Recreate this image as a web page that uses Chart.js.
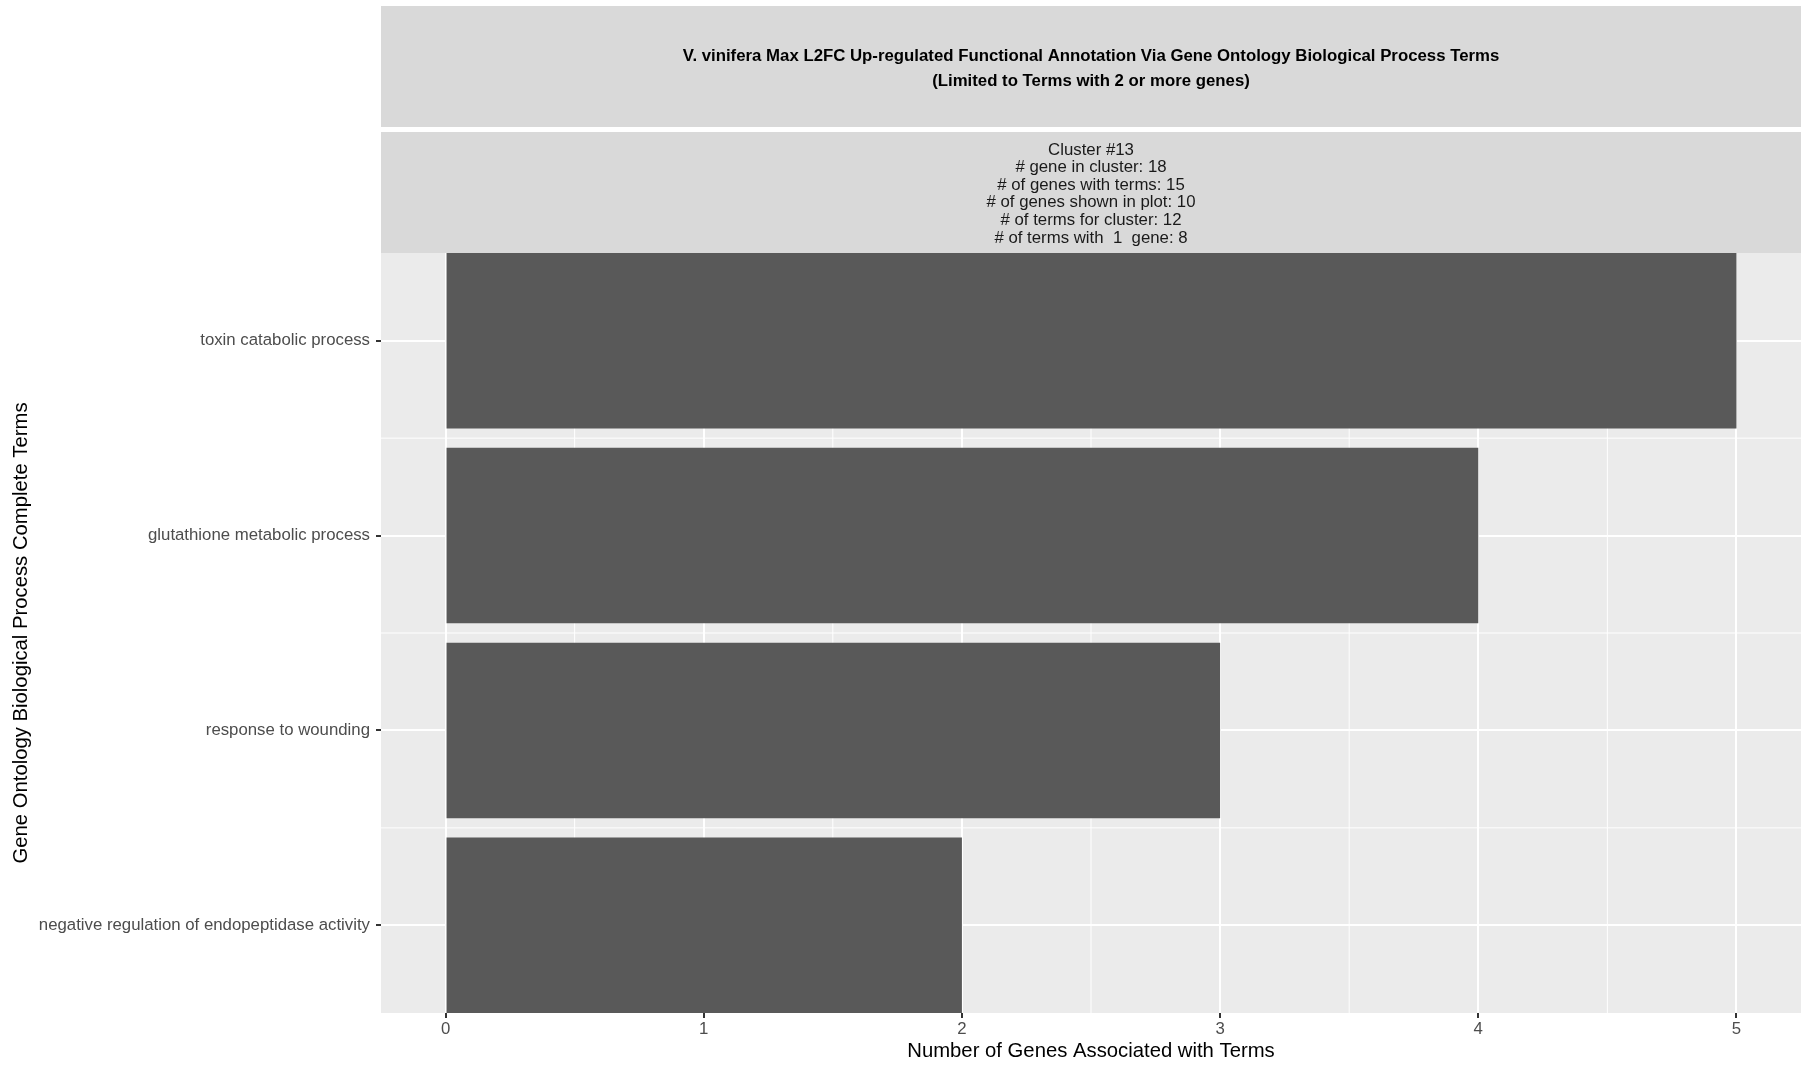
<!DOCTYPE html>
<html>
<head>
<meta charset="utf-8">
<script src="https://cdn.jsdelivr.net/npm/chart.js@4"></script>
<style>
  html, body { margin: 0; padding: 0; background: #ffffff; }
  canvas { display: block; }
</style>
</head>
<body>
<canvas id="chart" width="1805" height="1066"></canvas>
<script>
// terms, top to bottom
const terms = [
	'toxin catabolic process',
	'glutathione metabolic process',
	'response to wounding',
	'negative regulation of endopeptidase activity',
];
const geneCounts = [5, 4, 3, 2];
const countTicks = [0, 1, 2, 3, 4, 5];

const titleLines = [
	'V. vinifera Max L2FC Up-regulated Functional Annotation Via Gene Ontology Biological Process Terms',
	'(Limited to Terms with 2 or more genes)',
];
const clusterLines = [
	'Cluster #13',
	'# gene in cluster: 18',
	'# of genes with terms: 15',
	'# of genes shown in plot: 10',
	'# of terms for cluster: 12',
	'# of terms with  1  gene: 8',
];

const FONT = '"Liberation Sans", Arial, Helvetica, sans-serif';
Chart.defaults.font.family = FONT;

function midpoints(values) {
	return values.slice(1).map((v, i) => (v + values[i]) / 2);
}

// ggplot-like panel background, minor grid and facet strips
const ggPanel = {
	id: 'ggPanel',
	beforeDraw(chart) {
		const { ctx, chartArea: a, scales } = chart;
		ctx.save();
		ctx.fillStyle = '#EBEBEB';
		ctx.fillRect(a.left, a.top, a.right - a.left, a.bottom - a.top);

		ctx.strokeStyle = '#FFFFFF';
		ctx.lineWidth = 1;
		midpoints(countTicks).forEach(v => {
			const px = scales.x.getPixelForValue(v);
			ctx.beginPath();
			ctx.moveTo(px, a.top);
			ctx.lineTo(px, a.bottom);
			ctx.stroke();
		});
		midpoints(terms.map((t, i) => i + 1)).forEach(v => {
			const py = scales.y.getPixelForValue(v);
			ctx.beginPath();
			ctx.moveTo(a.left, py);
			ctx.lineTo(a.right, py);
			ctx.stroke();
		});

		// strips
		const cx = (a.left + a.right) / 2;
		ctx.fillStyle = '#D9D9D9';
		ctx.fillRect(a.left, 6, a.right - a.left, 121);
		ctx.fillRect(a.left, 132, a.right - a.left, a.top - 132);

		ctx.textAlign = 'center';
		ctx.textBaseline = 'middle';
		ctx.fillStyle = '#000000';
		ctx.font = 'bold 16.8px ' + FONT;
		titleLines.forEach((line, i) => ctx.fillText(line, cx, 56 + i * 25));

		ctx.fillStyle = '#1A1A1A';
		ctx.font = '16.8px ' + FONT;
		clusterLines.forEach((line, i) => ctx.fillText(line, cx, 150 + i * 17.6));
		ctx.restore();
	},
};

const gridOpts = {
	color: '#FFFFFF',
	lineWidth: 2,
	tickColor: '#333333',
	tickLength: 5,
	tickWidth: 2,
	offset: false,
};

new Chart(document.getElementById('chart'), {
	type: 'bar',
	data: {
		datasets: [{
			data: terms.map((t, i) => ({ x: geneCounts[i], y: i + 1 })),
			backgroundColor: '#595959',
			borderWidth: 0,
			barPercentage: 0.9,
			categoryPercentage: 1,
		}],
	},
	options: {
		indexAxis: 'y',
		responsive: false,
		animation: false,
		layout: { padding: { top: 253, right: 4, left: 0, bottom: 0 } },
		plugins: {
			legend: { display: false },
			tooltip: { enabled: false },
		},
		scales: {
			x: {
				type: 'linear',
				min: -0.25,
				max: 5.25,
				offset: false,
				afterBuildTicks: s => { s.ticks = countTicks.map(v => ({ value: v })); },
				afterFit: s => { s.height = 53; },
				ticks: { color: '#4D4D4D', font: { size: 16.8 }, padding: 1, maxRotation: 0 },
				grid: gridOpts,
				border: { display: false },
				title: {
					display: true,
					text: 'Number of Genes Associated with Terms',
					color: '#000000',
					font: { size: 20.3 },
					padding: { top: 0, bottom: 2 },
				},
			},
			y: {
				type: 'linear',
				reverse: true,
				min: 0.55,
				max: 4.45,
				offset: false,
				afterBuildTicks: s => { s.ticks = terms.map((t, i) => ({ value: i + 1 })); },
				afterFit: s => { s.width = 381; },
				ticks: {
					callback: v => terms[v - 1],
					color: '#4D4D4D',
					font: { size: 16.8 },
					padding: 6,
					autoSkip: false,
				},
				grid: gridOpts,
				border: { display: false },
				title: {
					display: true,
					text: 'Gene Ontology Biological Process Complete Terms',
					color: '#000000',
					font: { size: 20.3 },
					padding: { top: 9, bottom: 0 },
				},
			},
		},
	},
	plugins: [ggPanel],
});
</script>
</body>
</html>
